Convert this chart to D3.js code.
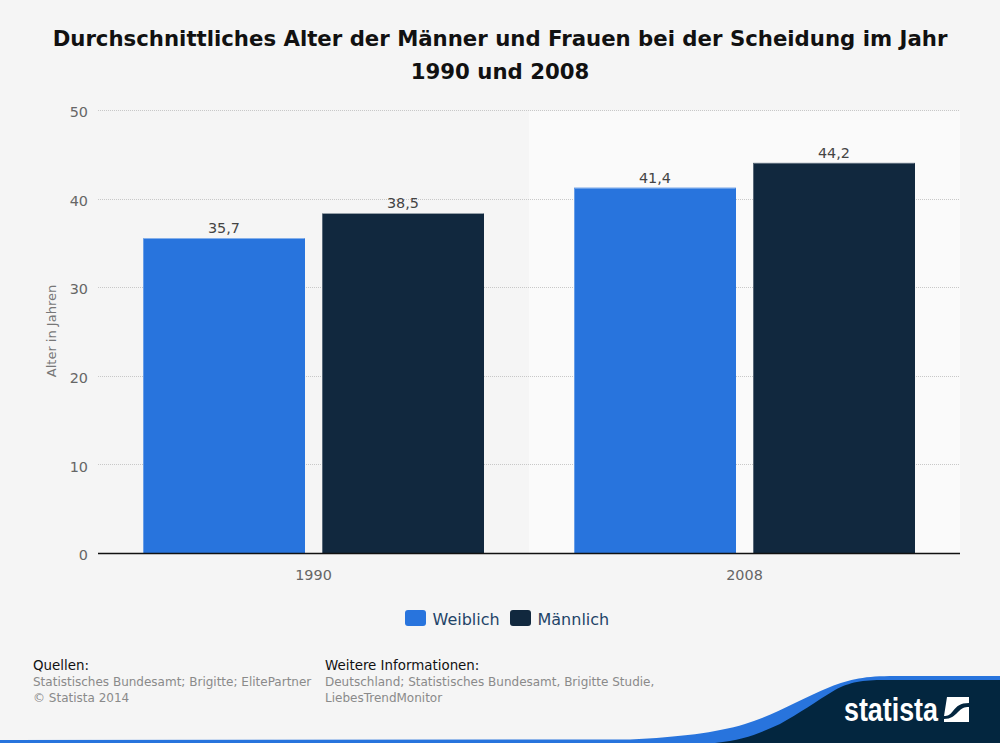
<!DOCTYPE html>
<html lang="de">
<head>
<meta charset="utf-8">
<title>Alter bei der Scheidung</title>
<script src="https://d3js.org/d3.v7.min.js"></script>
<style>
  html, body { margin: 0; padding: 0; background: #f5f5f5; }
  svg { display: block; font-family: "DejaVu Sans", sans-serif; }
  .grid line { stroke: #c8c8c8; stroke-dasharray: 1 1; }
  .axis path, .axis line { display: none; }
  .axis text { fill: #666; font-size: 14.4px; font-family: "DejaVu Sans", sans-serif; }
</style>
</head>
<body>
<svg id="chart" width="1000" height="743"></svg>
<script>
const years = ["1990", "2008"];
const seriesNames = ["Weiblich", "Männlich"];
const weiblich = [35.7, 41.4];
const maennlich = [38.5, 44.2];
const valueTicks = [0, 10, 20, 30, 40, 50];
const titleLines = ["Durchschnittliches Alter der Männer und Frauen bei der Scheidung im Jahr", "1990 und 2008"];
const colors = ["#2874dd", "#11283e"];

const svg = d3.select("#chart");
const plotLeft = 98, plotRight = 960, plotTop = 110.5, plotBottom = 553.5;

const x = d3.scaleBand().domain(years).range([plotLeft, plotRight]);
const inner = d3.scaleBand().domain(seriesNames).range([45, x.bandwidth() - 45]).paddingInner(0.095);
const y = d3.scaleLinear().domain([0, 50]).range([plotBottom, plotTop]);
const fmt = v => String(v).replace(".", ",");

// title
svg.append("g").selectAll("text").data(titleLines).enter().append("text")
    .attr("x", 500)
    .attr("y", (d, i) => 46 + i * 33)
    .attr("text-anchor", "middle")
    .attr("font-size", 21.25)
    .attr("font-weight", "bold")
    .attr("fill", "#111")
    .text(d => d);

// lighter band behind the second year
svg.append("rect")
    .attr("x", x("2008")).attr("y", plotTop)
    .attr("width", x.bandwidth()).attr("height", plotBottom - plotTop)
    .attr("fill", "#fafafa");

// gridlines
svg.append("g").attr("class", "grid")
    .selectAll("line").data(valueTicks.slice(1)).enter().append("line")
    .attr("x1", plotLeft).attr("x2", plotRight)
    .attr("y1", d => Math.ceil(y(d)) - 0.5).attr("y2", d => Math.ceil(y(d)) - 0.5);

// y axis
svg.append("g").attr("class", "axis")
    .attr("transform", `translate(${plotLeft - 10},1.5)`)
    .call(d3.axisLeft(y).tickValues(valueTicks).tickSize(0).tickPadding(0));

svg.append("text")
    .attr("transform", "translate(56,331) rotate(-90)")
    .attr("text-anchor", "middle")
    .attr("font-size", 13)
    .attr("fill", "#777")
    .text("Alter in Jahren");

// bars
const rows = years.map((year, i) => ({ year, values: [weiblich[i], maennlich[i]] }));
const groups = svg.append("g").selectAll("g").data(rows).enter().append("g")
    .attr("transform", d => `translate(${x(d.year)},0)`);

const cells = groups.selectAll("g").data(d => d.values.map((v, i) => ({ v, i }))).enter().append("g");

cells.append("rect")
    .attr("x", d => inner(seriesNames[d.i]))
    .attr("y", d => y(d.v) + 1)
    .attr("width", inner.bandwidth())
    .attr("height", d => plotBottom - y(d.v) - 1)
    .attr("fill", d => colors[d.i]);

// thin light edge on the top and left of each bar
cells.append("path")
    .attr("d", d => {
        const bx = inner(seriesNames[d.i]) + 0.5;
        const by = Math.round(y(d.v) + 1) + 0.5;
        return `M${bx},${plotBottom}V${by}H${bx + inner.bandwidth() - 1}`;
    })
    .attr("fill", "none")
    .attr("stroke", "#fff")
    .attr("stroke-opacity", 0.3);

cells.append("text")
    .attr("x", d => inner(seriesNames[d.i]) + inner.bandwidth() / 2)
    .attr("y", d => y(d.v) - 4)
    .attr("text-anchor", "middle")
    .attr("font-size", 14.4)
    .attr("fill", "#444")
    .text(d => fmt(d.v));

// x axis
svg.append("line")
    .attr("x1", plotLeft).attr("x2", plotRight)
    .attr("y1", plotBottom).attr("y2", plotBottom)
    .attr("stroke", "#111").attr("stroke-width", 1.4);

svg.append("g").attr("class", "axis")
    .attr("transform", `translate(0,${plotBottom + 16})`)
    .call(d3.axisBottom(x).tickSize(0).tickPadding(0));

// legend
const legendX = [405, 510];
const legend = svg.append("g").selectAll("g").data(seriesNames).enter().append("g")
    .attr("transform", (d, i) => `translate(${legendX[i]},610)`);
legend.append("rect")
    .attr("width", 21).attr("height", 16).attr("rx", 3)
    .attr("fill", (d, i) => colors[i]);
legend.append("text")
    .attr("x", 27.5).attr("y", 15)
    .attr("font-size", 16)
    .attr("fill", "#1f4468")
    .text(d => d);

// sources
const footer = [
    { x: 33, y: 670, size: 13.4, color: "#111", text: "Quellen:" },
    { x: 33, y: 686, size: 12, color: "#8a8a8a", text: "Statistisches Bundesamt; Brigitte; ElitePartner" },
    { x: 33, y: 702, size: 12, color: "#8a8a8a", text: "© Statista 2014" },
    { x: 325, y: 670, size: 13.4, color: "#111", text: "Weitere Informationen:" },
    { x: 325, y: 686, size: 12, color: "#8a8a8a", text: "Deutschland; Statistisches Bundesamt, Brigitte Studie," },
    { x: 325, y: 702, size: 12, color: "#8a8a8a", text: "LiebesTrendMonitor" }
];
svg.append("g").selectAll("text").data(footer).enter().append("text")
    .attr("x", d => d.x).attr("y", d => d.y)
    .attr("font-size", d => d.size)
    .attr("fill", d => d.color)
    .text(d => d.text);

// swoosh and logo
svg.append("path")
    .attr("d", "M0,740 L630,739.5 C680,737 715,733 745,724 C775,715 800,699 830,687 C850,679 865,676 895,676 L1000,676 L1000,743 L0,743 Z")
    .attr("fill", "#2874dd");
svg.append("path")
    .attr("d", "M715,743 C745,740 760,733 780,724 C800,713 815,702 835,690 C850,682 862,680 885,680 L1000,680 L1000,743 Z")
    .attr("fill", "#03263f");

svg.append("text")
    .attr("x", 844).attr("y", 720.5)
    .attr("font-family", "'Liberation Sans Narrow', 'Liberation Sans', sans-serif")
    .attr("font-weight", "bold")
    .attr("font-size", 34)
    .attr("textLength", 94)
    .attr("lengthAdjust", "spacingAndGlyphs")
    .attr("fill", "#fff")
    .text("statista");

svg.append("path")
    .attr("d", "M947,697 L969,697 L969,703 C960,703 957,706 953,711 C950,715 948,716 944,716 Z")
    .attr("fill", "#fff");
svg.append("path")
    .attr("d", "M969,707 L969,722 L944,722 L944,719 C951,719 954,716 958,712 C962,708 964,707 969,707 Z")
    .attr("fill", "#fff");
</script>
</body>
</html>
